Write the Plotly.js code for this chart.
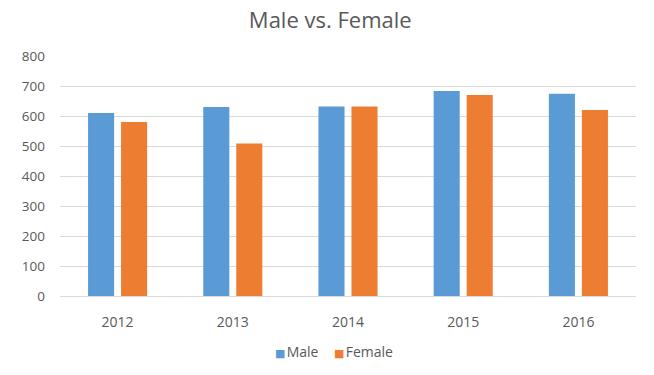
<!DOCTYPE html>
<html>
<head>
<meta charset="utf-8">
<script src="https://cdn.plot.ly/plotly-3.0.1.min.js"></script>
<style>
  html, body { margin: 0; padding: 0; background: #ffffff; }
  #chart { width: 654px; height: 375px; }
</style>
</head>
<body>
<div id="chart"></div>
<script>
// Yearly counts by gender
const years = ['2012', '2013', '2014', '2015', '2016'];
const maleValues = [610, 630, 632, 683, 674];
const femaleValues = [580, 508, 632, 670, 620];
const yTicks = [0, 100, 200, 300, 400, 500, 600, 700, 800];
const seriesNames = ['Male', 'Female'];
const seriesColors = ['#5B9BD5', '#ED7D31'];

const textColor = '#595959';
const fontFamily = '"Open Sans", "Liberation Sans", sans-serif';

const traces = [
  {
    type: 'bar',
    name: seriesNames[0],
    x: years,
    y: maleValues,
    marker: { color: seriesColors[0] },
    hoverinfo: 'x+y+name'
  },
  {
    type: 'bar',
    name: seriesNames[1],
    x: years,
    y: femaleValues,
    marker: { color: seriesColors[1] },
    hoverinfo: 'x+y+name'
  }
];

// Compact legend below the axis: small coloured square followed by the series name
const legendX = [0.3715, 0.474];
const legendAnnotations = seriesNames.map((name, i) => ({
  xref: 'paper',
  yref: 'paper',
  x: legendX[i],
  y: -0.233,
  xanchor: 'left',
  yanchor: 'middle',
  showarrow: false,
  borderpad: 0,
  text: '<span style="color:' + seriesColors[i] + ';font-family:DejaVu Sans;font-size:11px">\u25A0</span>' +
        '<span style="font-size:5px">\u00A0</span>' + name,
  font: { family: fontFamily, size: 14, color: textColor }
}));

const layout = {
  width: 654,
  height: 375,
  margin: { l: 60, r: 18, t: 56, b: 79 },
  paper_bgcolor: '#ffffff',
  plot_bgcolor: '#ffffff',
  font: { family: fontFamily, color: textColor, size: 13 },
  title: {
    text: 'Male vs. Female',
    font: { family: fontFamily, size: 22, color: textColor },
    x: 0.505,
    xanchor: 'center',
    y: 0.945,
    yanchor: 'middle'
  },
  barmode: 'group',
  bargap: 0.427,
  bargroupgap: 0.21,
  xaxis: {
    type: 'category',
    showgrid: false,
    showline: true,
    linecolor: '#D9D9D9',
    linewidth: 1,
    ticks: '',
    ticklabelstandoff: 13,
    tickfont: { size: 14, color: textColor },
    fixedrange: true
  },
  yaxis: {
    range: [0, 800],
    tickvals: yTicks,
    ticktext: yTicks.map(String),
    showgrid: true,
    gridcolor: '#D9D9D9',
    gridwidth: 1,
    zeroline: false,
    showline: false,
    ticks: '',
    ticklabelstandoff: 14,
    tickfont: { size: 13.5, color: textColor },
    fixedrange: true
  },
  showlegend: false,
  annotations: legendAnnotations
};

Plotly.newPlot('chart', traces, layout, { displayModeBar: false, staticPlot: true });
</script>
</body>
</html>
